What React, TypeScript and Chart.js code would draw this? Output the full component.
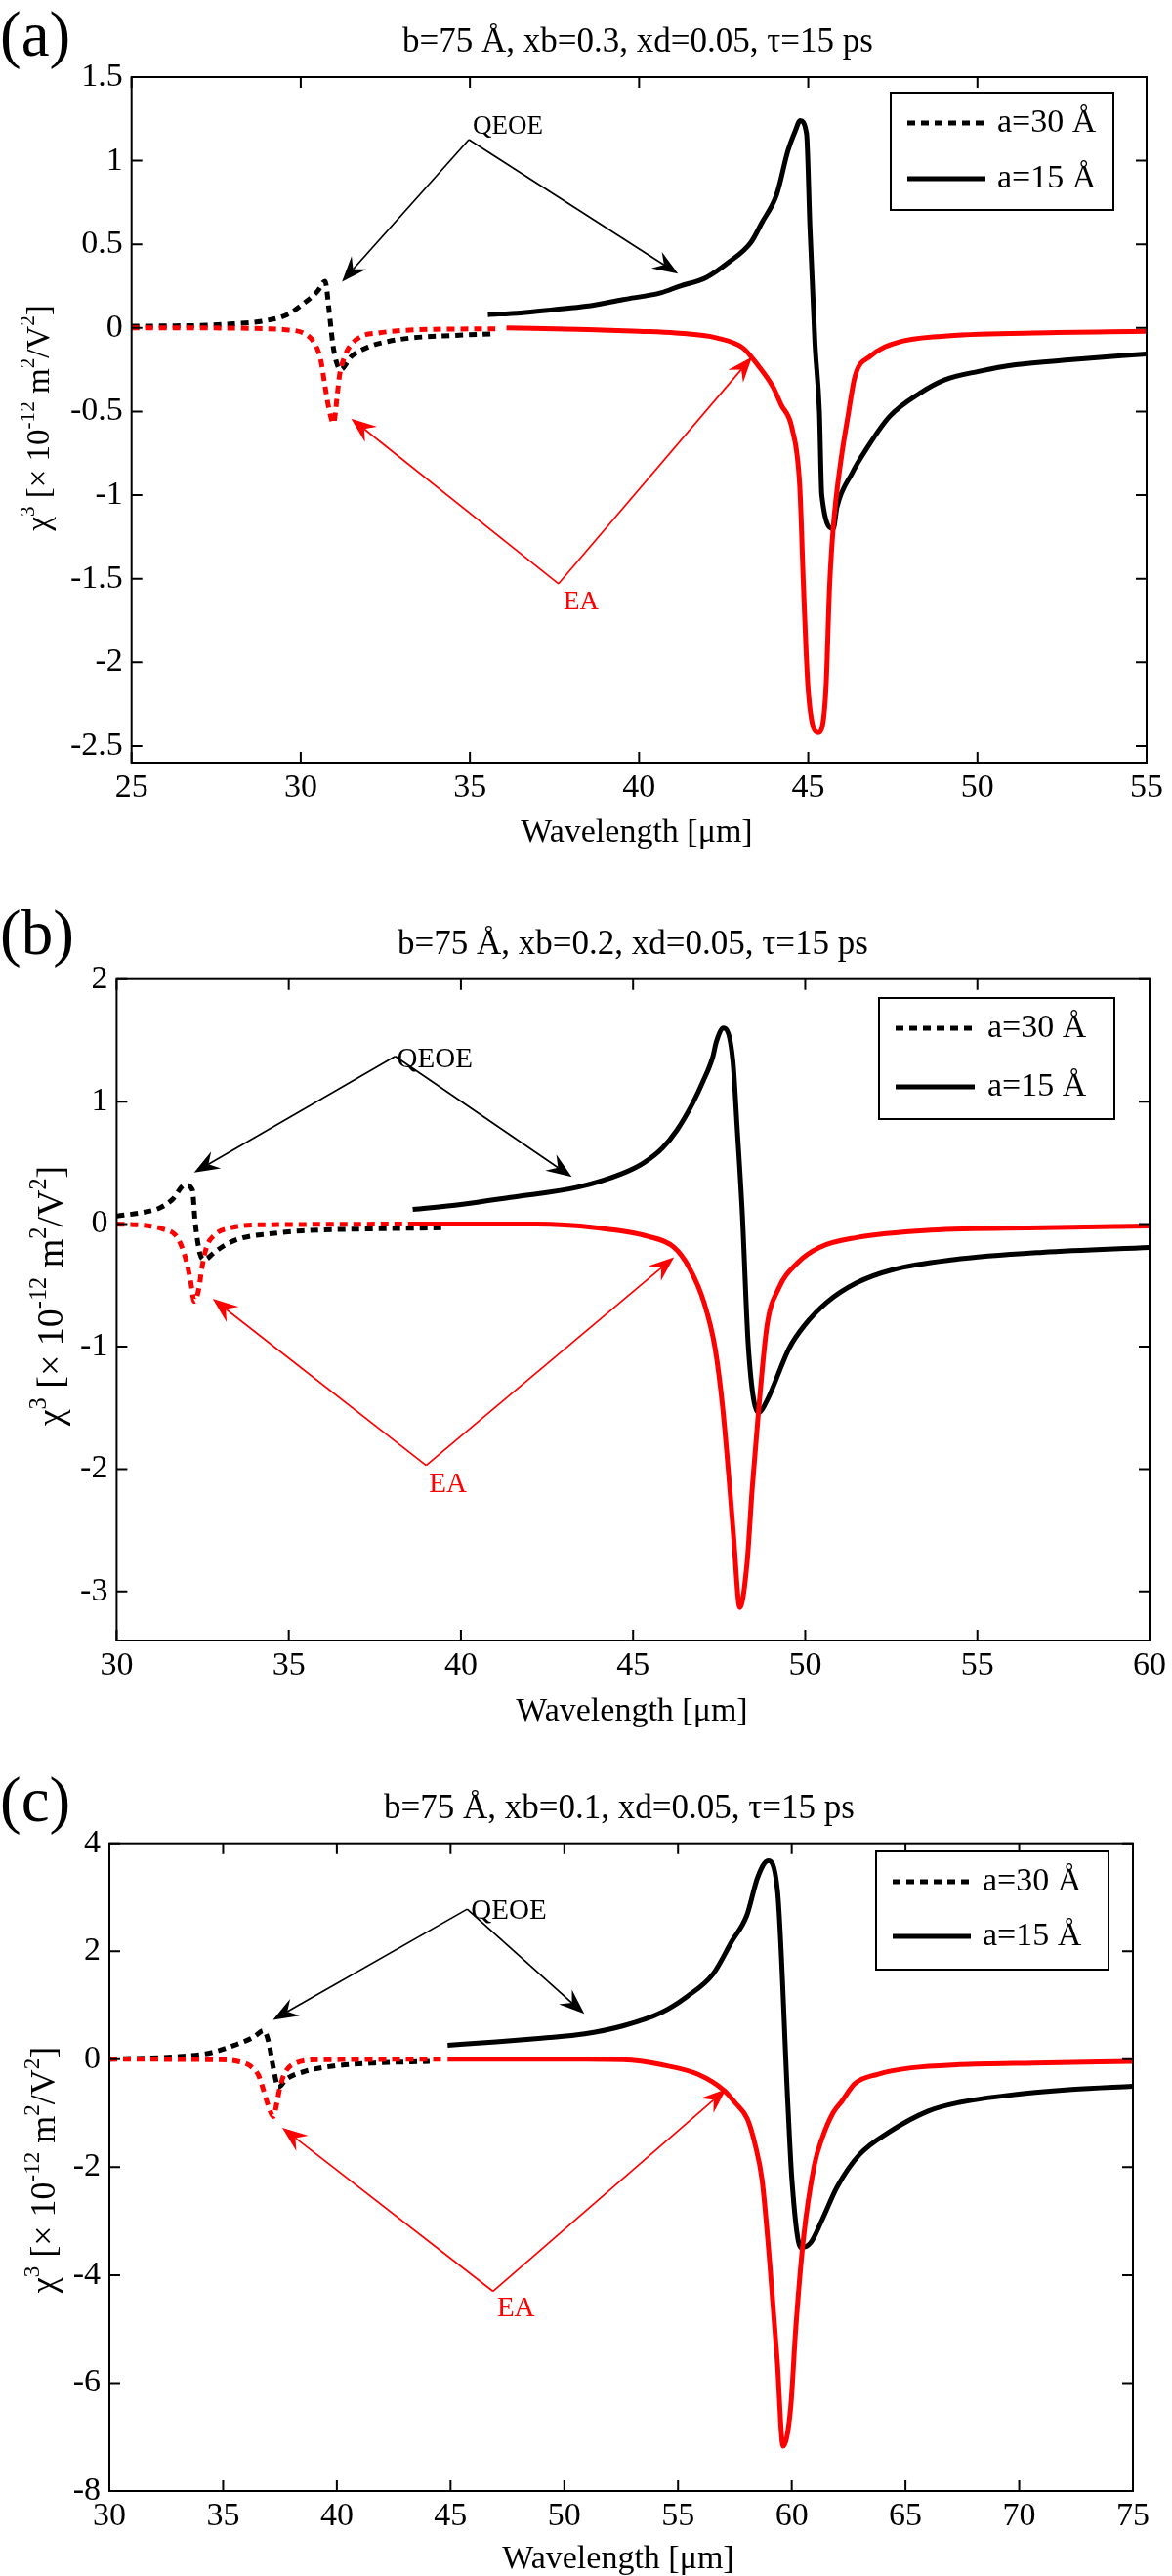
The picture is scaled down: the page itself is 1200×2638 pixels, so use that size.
import React, { useEffect, useRef } from 'react';
import { Chart, registerables } from 'chart.js';

Chart.register(...registerables);

const FONT = '"Liberation Serif", "Times New Roman", Times, serif';
const RED = '#ff0000';
const BLACK = '#000000';

// ---------------- DATA ----------------
// Panel (a): xb = 0.3
const A_XTICKS = [25, 30, 35, 40, 45, 50, 55];
const A_YTICKS = [-2.5, -2, -1.5, -1, -0.5, 0, 0.5, 1, 1.5];
const A_QEOE30_X = [25, 26, 27, 28, 28.85, 29.6, 30.17, 30.5, 30.72, 30.83, 30.95, 31.05, 31.17, 31.5, 32.05, 32.6, 33.26, 34.5, 35.75];
const A_QEOE30_Y = [0.01, 0.012, 0.015, 0.025, 0.04, 0.08, 0.16, 0.22, 0.28, 0.12, -0.1, -0.2, -0.25, -0.17, -0.11, -0.08, -0.06, -0.045, -0.035];
const A_EA30_X = [25, 27, 29, 29.5, 30.17, 30.5, 30.6, 30.72, 30.85, 30.97, 31.08, 31.15, 31.3, 31.45, 31.8, 32.3, 32.7, 33.5, 35.75];
const A_EA30_Y = [0, 0, -0.005, -0.01, -0.04, -0.13, -0.2, -0.35, -0.5, -0.57, -0.4, -0.28, -0.17, -0.11, -0.05, -0.03, -0.02, -0.01, -0.005];
const A_QEOE15_X = [35.53, 36.5, 37.5, 38.44, 39.53, 40.64, 41.2, 41.97, 42.63, 43.3, 43.63, 44.07, 44.4, 44.62, 44.76, 44.95, 45.05, 45.2, 45.33, 45.4, 45.74, 45.85, 46.29, 46.73, 47.4, 48.3, 49.04, 50.03, 51.13, 52.8, 55];
const A_QEOE15_Y = [0.08, 0.09, 0.11, 0.13, 0.17, 0.21, 0.25, 0.3, 0.39, 0.51, 0.63, 0.8, 1.06, 1.18, 1.24, 1.16, 0.6, -0.1, -0.5, -1.0, -1.2, -1.07, -0.87, -0.72, -0.53, -0.39, -0.31, -0.26, -0.22, -0.19, -0.155];
const A_EA15_X = [36.08, 38.5, 40, 41.08, 42.3, 43.07, 43.5, 43.95, 44.2, 44.52, 44.75, 44.86, 45.0, 45.3, 45.52, 45.63, 45.74, 45.96, 46.18, 46.38, 46.83, 47.6, 48.93, 51.68, 55];
const A_EA15_Y = [0, -0.01, -0.02, -0.03, -0.06, -0.12, -0.22, -0.35, -0.46, -0.6, -0.95, -1.55, -2.17, -2.42, -2.17, -1.55, -1.19, -0.8, -0.52, -0.29, -0.17, -0.09, -0.05, -0.03, -0.02];

// Panel (b): xb = 0.2
const B_XTICKS = [30, 35, 40, 45, 50, 55, 60];
const B_YTICKS = [-3, -2, -1, 0, 1, 2];
const B_QEOE30_X = [30, 30.86, 31.24, 31.62, 31.99, 32.2, 32.28, 32.42, 32.56, 32.84, 33.22, 33.69, 34.44, 35.39, 37.27, 39.43];
const B_QEOE30_Y = [0.065, 0.1, 0.13, 0.2, 0.32, 0.28, 0.02, -0.24, -0.29, -0.23, -0.16, -0.11, -0.08, -0.055, -0.04, -0.03];
const B_EA30_X = [30, 30.96, 31.34, 31.71, 31.9, 32.04, 32.14, 32.26, 32.4, 32.47, 32.61, 32.84, 33.31, 34.26, 39.43];
const B_EA30_Y = [0, -0.015, -0.04, -0.09, -0.19, -0.32, -0.45, -0.63, -0.51, -0.37, -0.19, -0.09, -0.03, -0.006, 0];
const B_QEOE15_X = [38.6, 40, 41.5, 43.38, 44.66, 45.31, 45.85, 46.28, 46.72, 47.04, 47.31, 47.42, 47.63, 47.9, 48.02, 48.17, 48.35, 48.64, 48.89, 49.54, 49.97, 50.62, 51.49, 52.57, 54.3, 56.89, 60];
const B_QEOE15_Y = [0.12, 0.16, 0.22, 0.3, 0.41, 0.5, 0.62, 0.77, 0.98, 1.17, 1.36, 1.49, 1.6, 1.33, 0.8, 0.1, -1.01, -1.54, -1.44, -1.01, -0.83, -0.64, -0.48, -0.37, -0.29, -0.23, -0.19];
const B_EA15_X = [38.6, 42.2, 43.92, 45.43, 46.19, 46.62, 47.06, 47.38, 47.6, 47.81, 47.92, 48.1, 48.31, 48.46, 48.64, 48.89, 49.22, 49.76, 50.41, 51.49, 53.65, 56.89, 60];
const B_EA15_Y = [0, 0, -0.03, -0.1, -0.19, -0.35, -0.64, -1.01, -1.49, -2.16, -2.55, -3.13, -2.77, -2.16, -1.54, -0.83, -0.53, -0.32, -0.19, -0.11, -0.05, -0.03, -0.015];

// Panel (c): xb = 0.1
const C_XTICKS = [30, 35, 40, 45, 50, 55, 60, 65, 70, 75];
const C_YTICKS = [-8, -6, -4, -2, 0, 2, 4];
const C_QEOE30_X = [30, 33.06, 34.35, 35.5, 36.35, 36.78, 37.0, 37.21, 37.43, 37.78, 38.64, 39.79, 41.65, 44.08];
const C_QEOE30_Y = [0, 0.05, 0.11, 0.26, 0.41, 0.53, 0.32, -0.16, -0.52, -0.37, -0.22, -0.13, -0.07, -0.04];
const C_EA30_X = [30, 34.92, 35.64, 36.21, 36.57, 36.78, 37.0, 37.21, 37.36, 37.5, 37.72, 38.21, 39.22, 44.6];
const C_EA30_Y = [0, -0.01, -0.04, -0.13, -0.31, -0.58, -0.88, -1.06, -0.82, -0.52, -0.25, -0.07, -0.01, 0];
const C_QEOE15_X = [44.87, 47, 49, 50.9, 52.6, 54.24, 55.39, 56.54, 57.36, 58.02, 58.51, 58.96, 59.37, 59.83, 60.01, 60.4, 60.83, 61.33, 61.99, 62.97, 64.28, 66.0, 67.38, 69.3, 72.31, 75];
const C_QEOE15_Y = [0.26, 0.32, 0.39, 0.47, 0.62, 0.86, 1.16, 1.58, 2.18, 2.66, 3.38, 3.68, 3.14, -0.84, -2.25, -3.49, -3.4, -2.98, -2.37, -1.77, -1.35, -0.96, -0.8, -0.68, -0.56, -0.5];
const C_EA15_X = [44.87, 48, 50.95, 52.6, 54.24, 55.88, 57.03, 57.5, 58.04, 58.4, 58.7, 59.03, 59.36, 59.62, 59.95, 60.18, 60.51, 61.0, 61.33, 61.82, 62.2, 62.78, 63.77, 65.25, 67.38, 70.66, 75];
const C_EA15_Y = [0, 0, 0, -0.01, -0.1, -0.28, -0.58, -0.8, -1.1, -1.6, -2.25, -3.76, -5.57, -7.17, -6.47, -4.97, -3.34, -1.95, -1.47, -0.99, -0.78, -0.45, -0.28, -0.16, -0.1, -0.07, -0.04];

const LEGEND_LABELS = ['a=30 Å', 'a=15 Å'];
const TITLES = [
  'b=75 Å, xb=0.3, xd=0.05, τ=15 ps',
  'b=75 Å, xb=0.2, xd=0.05, τ=15 ps',
  'b=75 Å, xb=0.1, xd=0.05, τ=15 ps',
];
const PANEL_TAGS = ['(a)', '(b)', '(c)'];
const X_LABEL = 'Wavelength [μm]';

// ---------------- LAYOUT ----------------
type Pt = [number, number];
interface Annot { label: string; color: string; origin: Pt; tips: Pt[]; dx: number; dy: number; size: number; }
interface Panel {
  top: number; height: number;
  left: number; right: number; plotTop: number; plotBottom: number;
  xMin: number; xMax: number; yMin: number; yMax: number;
  xTicks: number[]; yTicks: number[];
  series: { x: number[]; y: number[]; color: string; dotted: boolean }[];
  title: string; titleX: number; titleY: number;
  tag: string; tagY: number;
  xLabelX: number; xLabelY: number;
  yLabelX: number; yLabelY: number; yLabelSize: number;
  legend: { x: number; y: number; w: number; h: number; sx1: number; sx2: number; y1: number; y2: number; tx: number };
  annots: Annot[];
}

const PANELS: Panel[] = [
  {
    top: 0, height: 880, left: 134.7, right: 1174, plotTop: 79, plotBottom: 781,
    xMin: 25, xMax: 55, yMin: -2.6, yMax: 1.5, xTicks: A_XTICKS, yTicks: A_YTICKS,
    series: [
      { x: A_EA15_X, y: A_EA15_Y, color: RED, dotted: false },
      { x: A_EA30_X, y: A_EA30_Y, color: RED, dotted: true },
      { x: A_QEOE15_X, y: A_QEOE15_Y, color: BLACK, dotted: false },
      { x: A_QEOE30_X, y: A_QEOE30_Y, color: BLACK, dotted: true },
    ],
    title: TITLES[0], titleX: 653, titleY: 53, tag: PANEL_TAGS[0], tagY: 57,
    xLabelX: 652, xLabelY: 862, yLabelX: 50, yLabelY: 428, yLabelSize: 33,
    legend: { x: 912, y: 95, w: 228, h: 120, sx1: 929, sx2: 1009, y1: 126, y2: 183, tx: 1021 },
    annots: [
      { label: 'QEOE', color: BLACK, origin: [34.97, 1.126], tips: [[31.22, 0.277], [41.15, 0.324]], dx: 4, dy: -6, size: 27 },
      { label: 'EA', color: RED, origin: [37.62, -1.53], tips: [[31.49, -0.542], [43.34, -0.173]], dx: 5, dy: 26, size: 27 },
    ],
  },
  {
    top: 880, height: 900, left: 119.4, right: 1181, plotTop: 122.7, plotBottom: 800,
    xMin: 30, xMax: 60, yMin: -3.4, yMax: 2, xTicks: B_XTICKS, yTicks: B_YTICKS,
    series: [
      { x: B_EA15_X, y: B_EA15_Y, color: RED, dotted: false },
      { x: B_EA30_X, y: B_EA30_Y, color: RED, dotted: true },
      { x: B_QEOE15_X, y: B_QEOE15_Y, color: BLACK, dotted: false },
      { x: B_QEOE30_X, y: B_QEOE30_Y, color: BLACK, dotted: true },
    ],
    title: TITLES[1], titleX: 648, titleY: 97, tag: PANEL_TAGS[1], tagY: 97,
    xLabelX: 647, xLabelY: 882, yLabelX: 64, yLabelY: 447, yLabelSize: 38,
    legend: { x: 900, y: 142, w: 241, h: 124, sx1: 917, sx2: 998, y1: 173, y2: 233, tx: 1011 },
    annots: [
      { label: 'QEOE', color: BLACK, origin: [38.09, 1.37], tips: [[32.25, 0.42], [43.22, 0.385]], dx: 2, dy: 11, size: 29 },
      { label: 'EA', color: RED, origin: [38.99, -1.97], tips: [[32.79, -0.61], [46.19, -0.27]], dx: 3, dy: 27, size: 29 },
    ],
  },
  {
    top: 1780, height: 858, left: 112, right: 1160, plotTop: 107.7, plotBottom: 771,
    xMin: 30, xMax: 75, yMin: -8, yMax: 4, xTicks: C_XTICKS, yTicks: C_YTICKS,
    series: [
      { x: C_EA15_X, y: C_EA15_Y, color: RED, dotted: false },
      { x: C_EA30_X, y: C_EA30_Y, color: RED, dotted: true },
      { x: C_QEOE15_X, y: C_QEOE15_Y, color: BLACK, dotted: false },
      { x: C_QEOE30_X, y: C_QEOE30_Y, color: BLACK, dotted: true },
    ],
    title: TITLES[2], titleX: 634, titleY: 82, tag: PANEL_TAGS[2], tagY: 85,
    xLabelX: 633, xLabelY: 850, yLabelX: 56, yLabelY: 442, yLabelSize: 36,
    legend: { x: 897, y: 116, w: 238, h: 121, sx1: 914, sx2: 994, y1: 147, y2: 203, tx: 1006 },
    annots: [
      { label: 'QEOE', color: BLACK, origin: [45.73, 2.78], tips: [[37.19, 0.73], [50.88, 0.84]], dx: 4, dy: 10, size: 29 },
      { label: 'EA', color: RED, origin: [46.87, -4.3], tips: [[37.6, -1.27], [57.12, -0.55]], dx: 4, dy: 26, size: 29 },
    ],
  },
];

// ---------------- DRAW HELPERS ----------------
function drawArrow(ctx: CanvasRenderingContext2D, x0: number, y0: number, x1: number, y1: number, color: string) {
  const dx = x1 - x0, dy = y1 - y0;
  const len = Math.hypot(dx, dy) || 1;
  const ux = dx / len, uy = dy / len;
  const px = -uy, py = ux;
  const L = 26, W = 10, N = 17;
  ctx.strokeStyle = color;
  ctx.fillStyle = color;
  ctx.lineWidth = 1.7;
  ctx.setLineDash([]);
  ctx.beginPath();
  ctx.moveTo(x0, y0);
  ctx.lineTo(x1 - ux * N, y1 - uy * N);
  ctx.stroke();
  ctx.beginPath();
  ctx.moveTo(x1, y1);
  ctx.lineTo(x1 - ux * L + px * W, y1 - uy * L + py * W);
  ctx.lineTo(x1 - ux * N, y1 - uy * N);
  ctx.lineTo(x1 - ux * L - px * W, y1 - uy * L - py * W);
  ctx.closePath();
  ctx.fill();
}

function drawYLabel(ctx: CanvasRenderingContext2D, bx: number, cy: number, size: number) {
  const segs: [string, boolean][] = [
    ['χ', false], ['3', true], [' [× 10', false], ['-12', true], [' m', false], ['2', true], ['/V', false], ['2', true], [']', false],
  ];
  const sup = size * 0.64;
  let total = 0;
  const widths: number[] = [];
  for (const [t, s] of segs) {
    ctx.font = `${s ? sup : size}px ${FONT}`;
    const w = ctx.measureText(t).width;
    widths.push(w);
    total += w;
  }
  ctx.save();
  ctx.translate(bx, cy);
  ctx.rotate(-Math.PI / 2);
  ctx.fillStyle = BLACK;
  ctx.textAlign = 'left';
  ctx.textBaseline = 'alphabetic';
  let x = -total / 2;
  segs.forEach(([t, s], i) => {
    ctx.font = `${s ? sup : size}px ${FONT}`;
    ctx.fillText(t, x, s ? -size * 0.45 : 0);
    x += widths[i];
  });
  ctx.restore();
}

function makeDecor(p: Panel) {
  return {
    id: 'decor',
    afterDraw(chart: any) {
      const ctx: CanvasRenderingContext2D = chart.ctx;
      const a = chart.chartArea;
      const xs = chart.scales.x;
      const ys = chart.scales.y;
      ctx.save();
      ctx.setLineDash([]);
      // frame + inward ticks
      ctx.strokeStyle = BLACK;
      ctx.lineWidth = 2;
      ctx.strokeRect(a.left, a.top, a.right - a.left, a.bottom - a.top);
      const TL = 11;
      ctx.beginPath();
      for (const v of p.xTicks) {
        const x = xs.getPixelForValue(v);
        ctx.moveTo(x, a.bottom); ctx.lineTo(x, a.bottom - TL);
        ctx.moveTo(x, a.top); ctx.lineTo(x, a.top + TL);
      }
      for (const v of p.yTicks) {
        const y = ys.getPixelForValue(v);
        ctx.moveTo(a.left, y); ctx.lineTo(a.left + TL, y);
        ctx.moveTo(a.right, y); ctx.lineTo(a.right - TL, y);
      }
      ctx.stroke();

      // annotations
      for (const an of p.annots) {
        const ox = xs.getPixelForValue(an.origin[0]);
        const oy = ys.getPixelForValue(an.origin[1]);
        for (const t of an.tips) {
          drawArrow(ctx, ox, oy, xs.getPixelForValue(t[0]), ys.getPixelForValue(t[1]), an.color);
        }
        ctx.fillStyle = an.color;
        ctx.font = `${an.size}px ${FONT}`;
        ctx.textAlign = 'left';
        ctx.textBaseline = 'alphabetic';
        ctx.fillText(an.label, ox + an.dx, oy + an.dy);
      }

      // legend
      const lg = p.legend;
      ctx.fillStyle = '#ffffff';
      ctx.fillRect(lg.x, lg.y, lg.w, lg.h);
      ctx.strokeStyle = BLACK;
      ctx.lineWidth = 2;
      ctx.strokeRect(lg.x, lg.y, lg.w, lg.h);
      ctx.lineWidth = 5;
      ctx.lineCap = 'butt';
      ctx.setLineDash([8, 6]);
      ctx.beginPath(); ctx.moveTo(lg.sx1, lg.y1); ctx.lineTo(lg.sx2, lg.y1); ctx.stroke();
      ctx.setLineDash([]);
      ctx.beginPath(); ctx.moveTo(lg.sx1, lg.y2); ctx.lineTo(lg.sx2, lg.y2); ctx.stroke();
      ctx.fillStyle = BLACK;
      ctx.font = `34px ${FONT}`;
      ctx.textAlign = 'left';
      ctx.textBaseline = 'middle';
      ctx.fillText(LEGEND_LABELS[0], lg.tx, lg.y1);
      ctx.fillText(LEGEND_LABELS[1], lg.tx, lg.y2);

      // title, tag, axis labels
      ctx.textBaseline = 'alphabetic';
      ctx.textAlign = 'center';
      ctx.font = `35px ${FONT}`;
      ctx.fillText(p.title, p.titleX, p.titleY);
      ctx.font = `34px ${FONT}`;
      ctx.fillText(X_LABEL, p.xLabelX, p.xLabelY);
      ctx.textAlign = 'left';
      ctx.font = `65px ${FONT}`;
      ctx.fillText(p.tag, 0, p.tagY);
      drawYLabel(ctx, p.yLabelX, p.yLabelY, p.yLabelSize);
      ctx.restore();
    },
  };
}

function buildConfig(p: Panel): any {
  return {
    type: 'line',
    data: {
      datasets: p.series.map((s) => ({
        data: s.x.map((x, i) => ({ x, y: s.y[i] })),
        borderColor: s.color,
        backgroundColor: s.color,
        borderWidth: 5,
        borderDash: s.dotted ? [8, 6] : [],
        borderJoinStyle: 'round',
        borderCapStyle: 'butt',
        pointRadius: 0,
        fill: false,
        cubicInterpolationMode: 'monotone',
      })),
    },
    options: {
      animation: false,
      responsive: false,
      maintainAspectRatio: false,
      devicePixelRatio: 1,
      events: [],
      layout: { padding: { left: 0, top: p.plotTop, right: 1200 - p.right, bottom: 0 } },
      plugins: { legend: { display: false }, tooltip: { enabled: false }, title: { display: false } },
      scales: {
        x: {
          type: 'linear', position: 'bottom', min: p.xMin, max: p.xMax,
          grid: { display: false, drawTicks: false }, border: { display: false },
          afterBuildTicks: (s: any) => { s.ticks = p.xTicks.map((v) => ({ value: v })); },
          afterFit: (s: any) => { s.height = p.height - p.plotBottom; },
          ticks: {
            autoSkip: false, maxRotation: 0, minRotation: 0, padding: 6, color: BLACK,
            font: { family: FONT, size: 34, lineHeight: 1.2 },
            callback: (v: any) => String(v),
          },
        },
        y: {
          type: 'linear', position: 'left', min: p.yMin, max: p.yMax,
          grid: { display: false, drawTicks: false }, border: { display: false },
          afterBuildTicks: (s: any) => { s.ticks = p.yTicks.map((v) => ({ value: v })); },
          afterFit: (s: any) => { s.width = p.left; },
          ticks: {
            autoSkip: false, padding: 9, color: BLACK,
            font: { family: FONT, size: 34, lineHeight: 1.2 },
            callback: (v: any) => String(v),
          },
        },
      },
    },
    plugins: [makeDecor(p)],
  };
}

function PanelChart({ p }: { p: Panel }) {
  const ref = useRef<HTMLCanvasElement>(null);
  useEffect(() => {
    if (!ref.current) return;
    const chart = new Chart(ref.current, buildConfig(p));
    return () => chart.destroy();
  }, [p]);
  return (
    <canvas
      ref={ref}
      width={1200}
      height={p.height}
      style={{ position: 'absolute', left: 0, top: p.top, width: 1200, height: p.height, display: 'block' }}
    />
  );
}

export default function App() {
  return (
    <div style={{ position: 'absolute', left: 0, top: 0, width: 1200, height: 2638, background: '#ffffff', overflow: 'hidden' }}>
      {PANELS.map((p, i) => (
        <PanelChart key={i} p={p} />
      ))}
    </div>
  );
}
